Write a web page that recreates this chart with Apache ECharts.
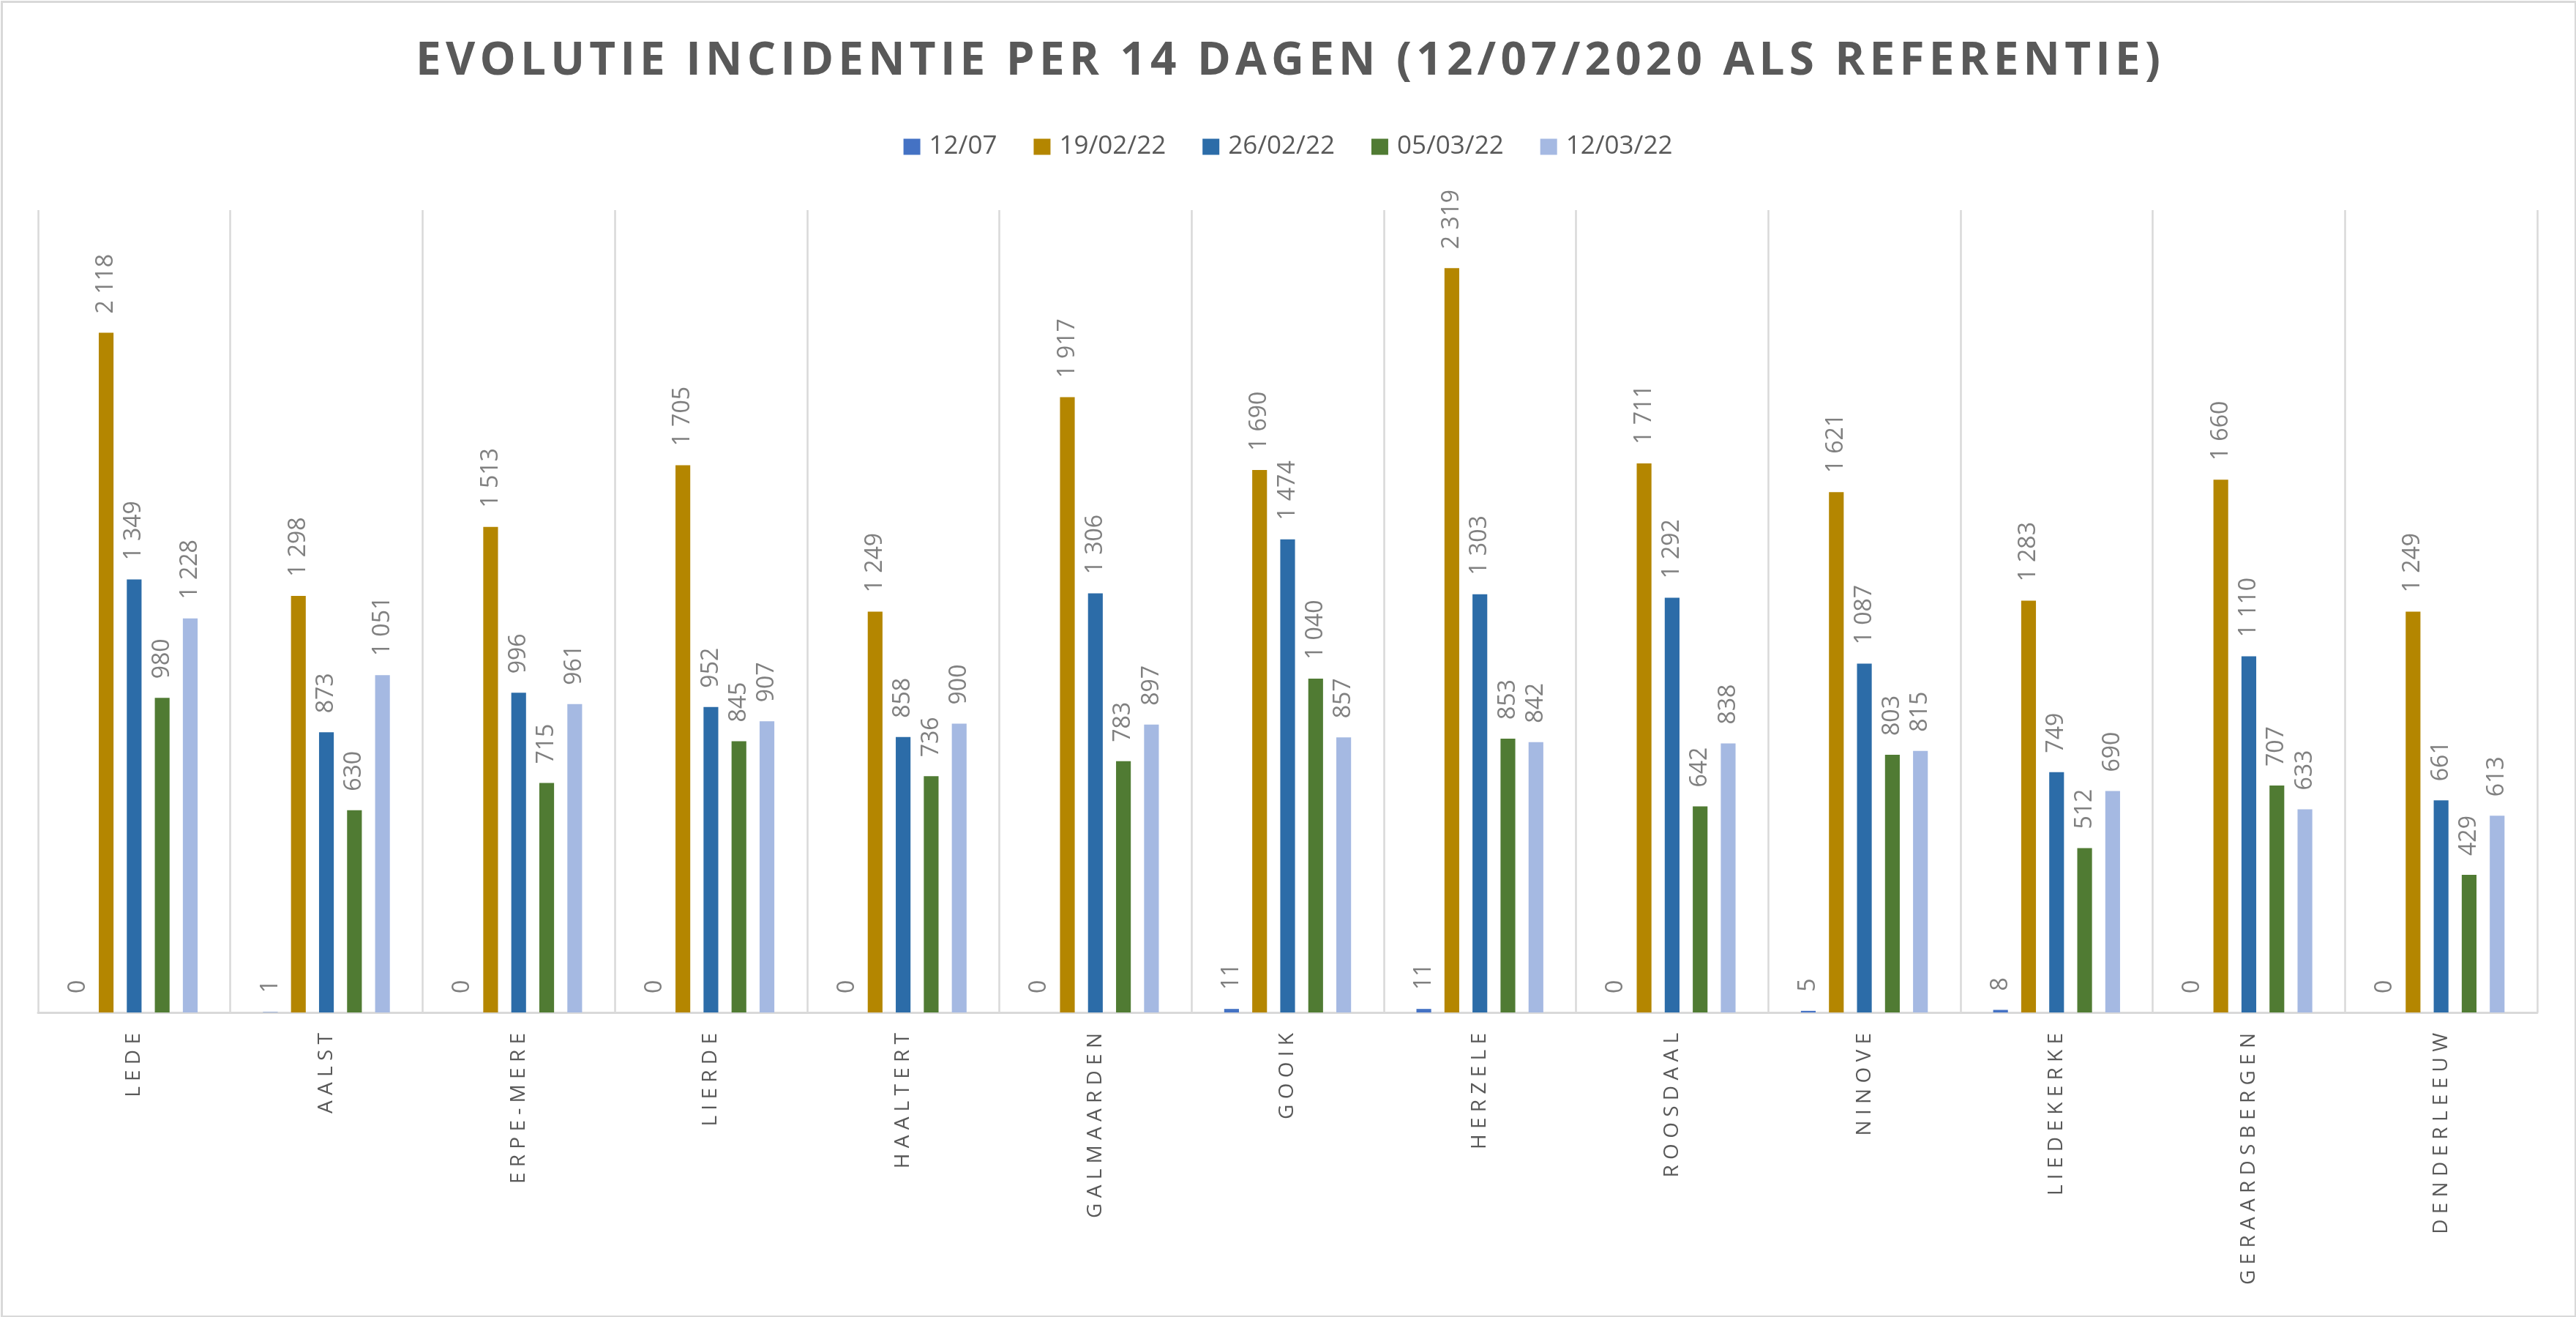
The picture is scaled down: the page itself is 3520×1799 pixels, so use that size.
<!DOCTYPE html>
<html>
<head>
<meta charset="utf-8">
<script src="https://cdn.jsdelivr.net/npm/echarts@6/dist/echarts.min.js"></script>
<style>
html,body{margin:0;padding:0;background:#fff;}
#chart{width:3520px;height:1799px;}
</style>
</head>
<body>
<div id="chart"></div>
<script>
const titleText = 'EVOLUTIE INCIDENTIE PER 14 DAGEN (12/07/2020 ALS REFERENTIE)';
const categories = ['LEDE','AALST','ERPE-MERE','LIERDE','HAALTERT','GALMAARDEN','GOOIK','HERZELE','ROOSDAAL','NINOVE','LIEDEKERKE','GERAARDSBERGEN','DENDERLEEUW'];
const seriesNames = ['12/07','19/02/22','26/02/22','05/03/22','12/03/22'];
const s1207   = [0, 1, 0, 0, 0, 0, 11, 11, 0, 5, 8, 0, 0];
const s190222 = [2118, 1298, 1513, 1705, 1249, 1917, 1690, 2319, 1711, 1621, 1283, 1660, 1249];
const s260222 = [1349, 873, 996, 952, 858, 1306, 1474, 1303, 1292, 1087, 749, 1110, 661];
const s050322 = [980, 630, 715, 845, 736, 783, 1040, 853, 642, 803, 512, 707, 429];
const s120322 = [1228, 1051, 961, 907, 900, 897, 857, 842, 838, 815, 690, 633, 613];
const seriesData = [s1207, s190222, s260222, s050322, s120322];
const colors = ['#4472C4', '#B48600', '#2C6CA8', '#507B33', '#A5B9E2'];

function fmt(v){ return String(v).replace(/\B(?=(\d{3})+(?!\d))/g, ' '); }
function spaced(s){ return s.split('').join(' '); }
function hair(s){ return s.split('').join('\u200A'); }

const chart = echarts.init(document.getElementById('chart'), null, {renderer:'canvas'});
const series = seriesNames.map((name, i) => ({
  name: name,
  type: 'bar',
  data: seriesData[i],
  itemStyle: {color: colors[i]},
  barGap: '90%',
  barCategoryGap: '34%',
  label: {
    show: true,
    position: 'top',
    rotate: 90,
    align: 'left',
    verticalAlign: 'middle',
    distance: 26,
    color: '#808080',
    fontFamily: 'Open Sans',
    fontSize: 32,
    formatter: p => fmt(p.value)
  }
}));

chart.setOption({
  backgroundColor: '#ffffff',
  animation: false,
  color: colors,
  title: {
    text: hair(titleText),
    left: 'center',
    top: 48,
    textStyle: {
      fontFamily: 'Open Sans',
      fontWeight: 'bold',
      fontSize: 62,
      color: '#595959'
    }
  },
  legend: {
    top: 178,
    left: 'center',
    icon: 'rect',
    itemWidth: 23,
    itemHeight: 22,
    itemGap: 50,
    textStyle: {
      fontFamily: 'Open Sans',
      fontSize: 35,
      color: '#595959',
      padding: [0, 0, 0, 7]
    },
    data: seriesNames
  },
  grid: {left: 52, right: 53, top: 287, bottom: 416, containLabel: false},
  xAxis: {
    type: 'category',
    data: categories,
    axisLine: {show: true, lineStyle: {color: '#d9d9d9', width: 3}},
    axisTick: {show: false},
    splitLine: {show: true, lineStyle: {color: '#d9d9d9', width: 2.5}},
    axisLabel: {
      interval: 0,
      rotate: 90,
      margin: 28,
      color: '#595959',
      fontFamily: 'Open Sans',
      fontSize: 28,
      formatter: v => spaced(v)
    }
  },
  yAxis: {
    type: 'value',
    min: 0,
    max: 2500,
    show: false,
    splitLine: {show: false}
  },
  series: series,
  graphic: [{
    type: 'rect',
    left: 0, top: 0,
    shape: {x: 1.5, y: 1.5, width: 3517, height: 1796},
    style: {fill: 'none', stroke: '#d9d9d9', lineWidth: 3},
    silent: true
  }]
});
</script>
</body>
</html>
